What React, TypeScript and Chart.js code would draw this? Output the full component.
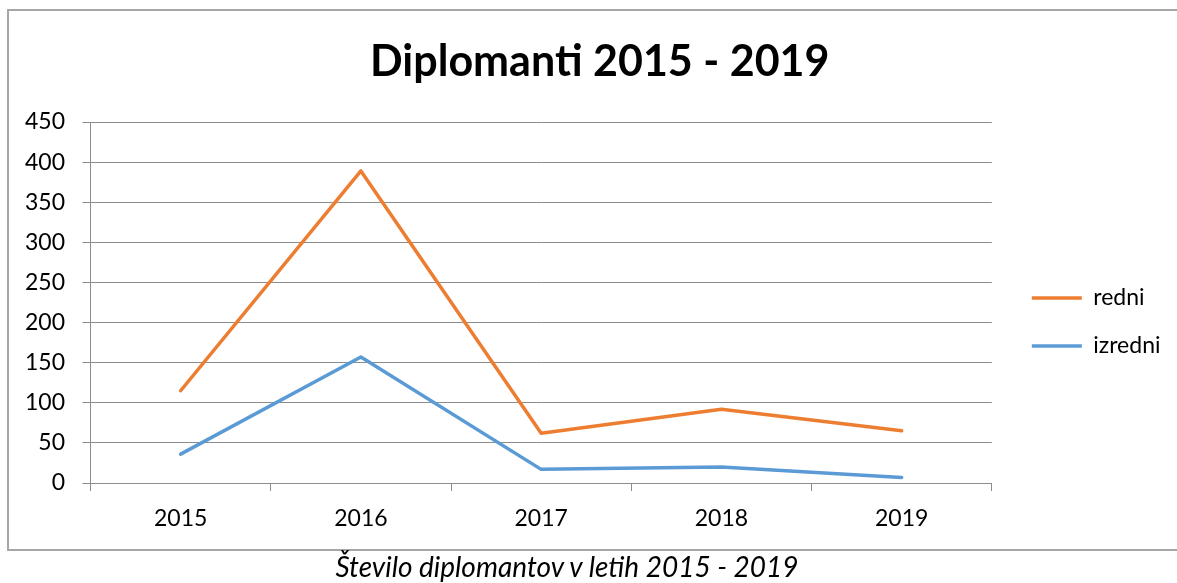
import React, { useEffect, useRef } from "react";
import { Chart, registerables } from "chart.js";

Chart.register(...registerables);

const categories = ["2015", "2016", "2017", "2018", "2019"];
const redni = [115, 389, 62, 92, 65];
const izredni = [36, 157, 17, 20, 7];
const titleText = "Diplomanti 2015 - 2019";
const captionText = "Število diplomantov v letih 2015 - 2019";

const FONT = "Lato";
const GRID = "#8c8c8c";

const boxNudge = {
  id: "boxNudge",
  afterLayout(chart: any) {
    const lg = chart.legend;
    if (lg) {
      const dx = 15;
      const dy = 30.5;
      lg.left += dx;
      lg.right += dx;
      lg.top += dy;
      lg.bottom += dy;
    }
    const tb = chart.titleBlock;
    if (tb) {
      tb.left += 22;
      tb.right += 22;
    }
  },
};

export default function App() {
  const ref = useRef<HTMLCanvasElement | null>(null);

  useEffect(() => {
    if (!ref.current) return;
    const chart = new Chart(ref.current, {
      type: "line",
      data: {
        labels: categories,
        datasets: [
          {
            label: "redni",
            data: redni,
            borderColor: "#ED7D31",
            backgroundColor: "#ED7D31",
            borderWidth: 3.5,
            borderCapStyle: "round",
            borderJoinStyle: "round",
            pointRadius: 0,
            tension: 0,
          },
          {
            label: "izredni",
            data: izredni,
            borderColor: "#5B9BD5",
            backgroundColor: "#5B9BD5",
            borderWidth: 3.5,
            borderCapStyle: "round",
            borderJoinStyle: "round",
            pointRadius: 0,
            tension: 0,
          },
        ],
      },
      options: {
        responsive: false,
        animation: false,
        devicePixelRatio: 1,
        layout: { padding: { left: 0, right: 21.5, top: 0, bottom: 0 } },
        plugins: {
          title: {
            display: true,
            text: titleText,
            color: "#000",
            font: { family: FONT, size: 43, weight: "bold", lineHeight: 1.2 },
            padding: { top: 36.2, bottom: 34.2 },
          },
          legend: {
            display: true,
            position: "right",
            align: "center",
            labels: {
              usePointStyle: true,
              pointStyle: "line",
              pointStyleWidth: 50,
              padding: 25,
              color: "#000",
              font: { family: FONT, size: 23 },
            },
          },
          tooltip: { enabled: false },
        },
        scales: {
          x: {
            type: "category",
            offset: true,
            grid: {
              offset: true,
              drawOnChartArea: false,
              drawTicks: true,
              tickLength: 8,
              color: GRID,
            },
            border: { display: true, color: GRID },
            ticks: {
              color: "#000",
              font: { family: FONT, size: 23 },
              padding: 14,
              maxRotation: 0,
            },
            afterFit(scale: any) {
              scale.height = 100;
            },
          },
          y: {
            min: 0,
            max: 450,
            grid: {
              drawTicks: true,
              tickLength: 8,
              color: GRID,
            },
            border: { display: true, color: GRID },
            ticks: {
              stepSize: 50,
              color: "#000",
              font: { family: FONT, size: 23 },
              padding: 17.5,
            },
            afterFit(scale: any) {
              scale.width = 90.5;
            },
          },
        },
      },
      plugins: [boxNudge],
    });
    return () => chart.destroy();
  }, []);

  return (
    <div
      style={{
        position: "absolute",
        left: 0,
        top: 0,
        width: 1177,
        height: 583,
        overflow: "hidden",
        background: "#fff",
      }}
    >
      <canvas
        ref={ref}
        width={1177}
        height={583}
        style={{ position: "absolute", left: 0, top: 0, width: 1177, height: 583 }}
      />
      <div
        style={{
          position: "absolute",
          left: 7,
          top: 9,
          width: 1180,
          height: 538,
          border: "2px solid #a6a6a6",
          pointerEvents: "none",
        }}
      />
      <div
        style={{
          position: "absolute",
          left: 267,
          top: 552,
          width: 600,
          textAlign: "center",
          fontFamily: FONT,
          fontStyle: "italic",
          fontSize: 28,
          lineHeight: "28px",
          color: "#000",
          whiteSpace: "nowrap",
        }}
      >
        {captionText}
      </div>
    </div>
  );
}
